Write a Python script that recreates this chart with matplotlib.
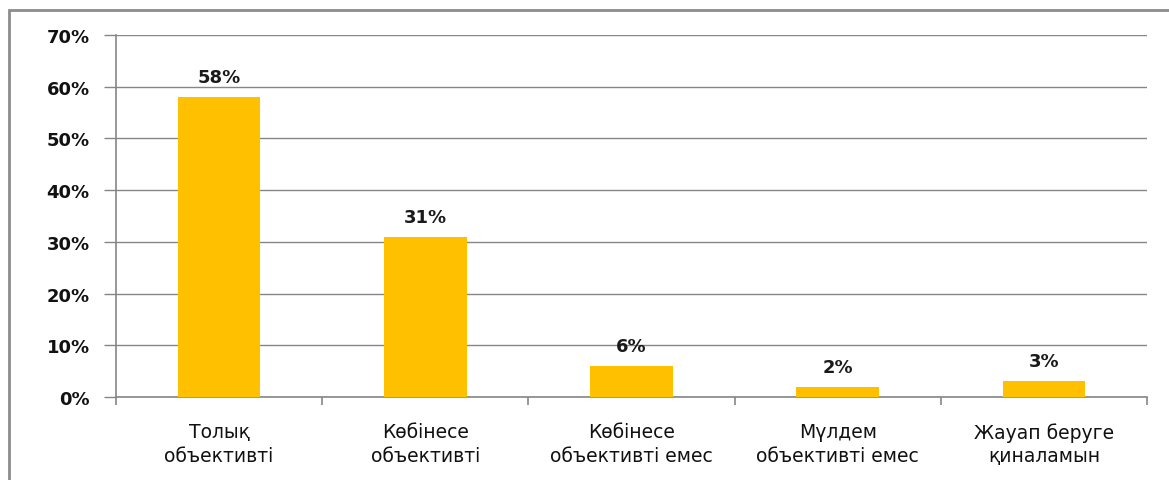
import numpy as np
import matplotlib.pyplot as plt
from matplotlib.patches import Rectangle
from matplotlib.ticker import FixedLocator, PercentFormatter


# Survey answers and their shares (percent)

categories = [
    "Толық\nобъективті",
    "Көбінесе\nобъективті",
    "Көбінесе\nобъективті емес",
    "Мүлдем\nобъективті емес",
    "Жауап беруге\nқиналамын",
]

shares = [58, 31, 6, 2, 3]

y_ticks = [0, 10, 20, 30, 40, 50, 60, 70]

bar_color = "#FFC000"
grid_color = "#868686"

plt.rcParams["font.family"] = ["DejaVu Sans"]

fig = plt.figure(figsize=(11.69, 4.81), dpi=100)

W, H = 1169, 481

ax = fig.add_axes([
    116 / W,
    1 - 398 / H,
    (1147 - 116) / W,
    (398 - 36) / H
])

x = np.arange(len(categories))

bars = ax.bar(x, shares, width=0.4, color=bar_color, zorder=3)

# Data labels above bars
for xi, value in zip(x, shares):
    ax.annotate(
        f"{value}%",
        (xi, value),
        xytext=(0, 8),
        textcoords="offset points",
        ha="center",
        va="bottom",
        fontsize=13,
        fontweight="bold",
        color="#1a1a1a"
    )

ax.set_xlim(-0.5, len(categories) - 0.5)
ax.set_ylim(0, 70)

ax.set_yticks(y_ticks)
ax.yaxis.set_major_formatter(PercentFormatter(decimals=0))
ax.grid(axis="y", color=grid_color, linewidth=1.0, zorder=0)

ax.set_xticks(x)
ax.set_xticklabels(categories, fontsize=13.5, linespacing=1.3)
ax.xaxis.set_minor_locator(FixedLocator(np.arange(-0.5, len(categories), 1.0)))

ax.tick_params(axis="x", which="major", length=0, pad=18, colors="#111111")
ax.tick_params(axis="x", which="minor", length=6, color=grid_color, width=1.2)
ax.tick_params(axis="y", length=9, color=grid_color, width=1.0, pad=10)

for label in ax.get_yticklabels():
    label.set_fontweight("bold")
    label.set_fontsize(13)
    label.set_color("#111111")

for side in ["top", "right"]:
    ax.spines[side].set_visible(False)

for side in ["left", "bottom"]:
    ax.spines[side].set_color(grid_color)
    ax.spines[side].set_linewidth(1.2)

# Chart frame (right and bottom edges fall outside the picture)
frame = Rectangle(
    (9 / W, -0.05),
    1.1,
    1 - 11 / H + 0.05,
    transform=fig.transFigure,
    fill=False,
    edgecolor="#8c8c8c",
    linewidth=2,
    clip_on=False
)
fig.patches.append(frame)

fig.savefig("out.png", dpi=100)
